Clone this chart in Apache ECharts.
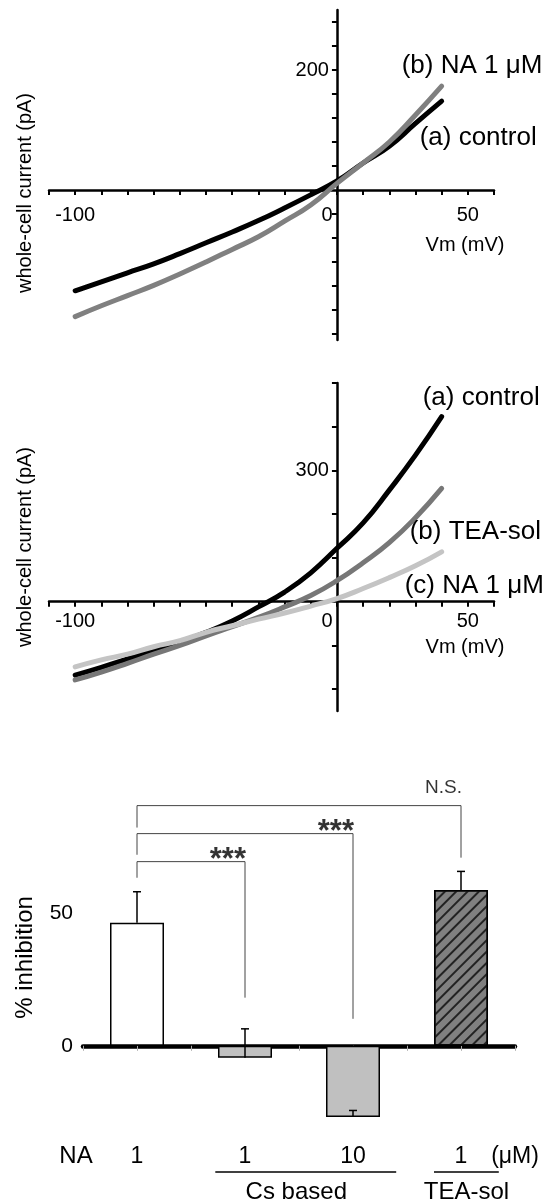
<!DOCTYPE html>
<html>
<head>
<meta charset="utf-8">
<script src="https://cdn.jsdelivr.net/npm/echarts@6.0.0/dist/echarts.min.js"></script>
<style>
html, body { margin: 0; padding: 0; background: #fff; }
#main { width: 548px; height: 1202px; }
</style>
</head>
<body>
<div id="main"></div>
<script>
// membrane potential steps (mV) shared by both I-V plots
var vm = [-100, -90, -80, -70, -60, -50, -40, -30, -20, -10, 0, 10, 20, 30, 40];

// top I-V: whole-cell current (pA)
var topControl = [-168, -153, -138, -123, -106, -88, -70, -51, -30, -8, 15, 45, 73, 111, 148];
var topNA = [-211, -193, -176, -159, -140, -120, -99, -78, -52, -25, 11, 45, 80, 125, 173];

// middle I-V
var midControl = [-168, -150, -131, -112, -92, -70, -44, -12, 22, 66, 122, 180, 255, 335, 423];
var midTEA = [-179, -161, -141, -120, -100, -78, -57, -36, -12, 14, 48, 89, 135, 192, 259];
var midNA = [-149, -133, -120, -103, -89, -70, -55, -40, -26, -10, 7, 30, 55, 82, 114];

// axis ticks / labels
var ivXTicks = [-110, -100, -90, -80, -70, -60, -50, -40, -30, -20, -10, 0, 10, 20, 30, 40, 50, 60];
var ivXLabels = [-100, 0, 50];
var topYTicks = [-240, -200, -160, -120, -80, -40, 40, 80, 120, 160, 200, 240, 280];
var topYLabels = [200];
var midYTicks = [-200, -100, 100, 200, 300, 400, 500];
var midYLabels = [300];

// bar chart: % inhibition
var barCats = ['NA', '1', '', '1', '', '10', '', '1', '(\u03bcM)'];
var barPos = [1, 3, 5, 7];
var barMean = [46.6, -4.5, -27, 59];
var barSem = [11.7, 10.9, 2.5, 7];
var barYLabels = [0, 50];

// significance brackets
var brFrom = [1, 1, 1];
var brTo = [3, 5, 7];
var brLevel = [69.7, 80.3, 90.9];
var brFromEnd = [63.6, 72.3, 82.6];
var brToEnd = [18.2, 10.2, 71.2];
var brText = ['***', '***', 'N.S.'];

// group underlines below the categories
var groupNames = ['Cs based', 'TEA-sol'];
var groupFrom = [2.45, 6.5];
var groupTo = [5.8, 7.7];
var groupMid = [3.95, 7.1];

var FONT = 'Liberation Sans';
var chart = echarts.init(document.getElementById('main'), null, { renderer: 'canvas' });

var grids = [
	{ left: 49, right: 54, top: 10, height: 330 },
	{ left: 49, right: 54, top: 383, height: 328 },
	{ left: 83, right: 33, top: 808, height: 317 }
];
var ivXMin = -110, ivXMax = 60;

// distance of the value 0 from the low end of an axis of given pixel length
function zeroDist(min, max, len) {
	return len * (0 - min) / (max - min);
}

function ivX(grid, yMin, yMax, margin, namePad) {
	return {
		gridIndex: grid, type: 'value', min: ivXMin, max: ivXMax,
		position: 'bottom', offset: -zeroDist(yMin, yMax, grids[grid].height),
		splitLine: { show: false },
		axisLine: { onZero: false, lineStyle: { color: '#000', width: 2.5 } },
		axisTick: { customValues: ivXTicks, length: 5, lineStyle: { color: '#000', width: 2 } },
		axisLabel: {
			customValues: ivXLabels, margin: margin, color: '#000', fontSize: 20, fontFamily: FONT,
			formatter: function (v) { return v === 0 ? '{z|0}' : String(v); },
			rich: { z: { padding: [0, 20, 0, 0], fontSize: 20, fontFamily: FONT, color: '#000' } }
		},
		name: 'Vm (mV)', nameLocation: 'end', nameGap: -29,
		nameTextStyle: { align: 'center', verticalAlign: 'top', padding: [namePad, 0, 0, 0], fontSize: 20, fontFamily: FONT, color: '#000' }
	};
}

function ivY(grid, min, max, ticks, labels, shift) {
	var off = zeroDist(ivXMin, ivXMax, 548 - grids[grid].left - grids[grid].right);
	return {
		gridIndex: grid, type: 'value', min: min, max: max,
		position: 'left', offset: -off,
		splitLine: { show: false },
		axisLine: { onZero: false, lineStyle: { color: '#000', width: 2.5 } },
		axisTick: { customValues: ticks, length: 5, lineStyle: { color: '#000', width: 2 } },
		axisLabel: { customValues: labels, color: '#000', fontSize: 20, fontFamily: FONT },
		name: 'whole-cell current (pA)', nameLocation: 'middle', nameGap: 301,
		nameTextStyle: { fontSize: 20, fontFamily: FONT, color: '#000', padding: [0, shift, 0, 0] }
	};
}

function trace(grid, values, color, label, off) {
	return {
		type: 'line', xAxisIndex: grid, yAxisIndex: grid,
		data: vm.map(function (v, i) { return [v, values[i]]; }),
		smooth: true, showSymbol: false, silent: true,
		lineStyle: { color: color, width: 5, cap: 'round' },
		endLabel: {
			show: true, formatter: function () { return label; }, distance: 0, offset: off,
			color: '#000', fontSize: 26, fontFamily: FONT
		}
	};
}

var barColors = ['#ffffff', '#c0c0c0', '#c0c0c0', '#808080'];
var barData = barPos.map(function (x, i) {
	var item = { value: [x, barMean[i]], itemStyle: { color: barColors[i] } };
	if (i === 3) {
		item.itemStyle.decal = { symbol: 'rect', symbolSize: 1, dashArrayX: [1, 0], dashArrayY: [1.2, 6], rotation: -Math.PI / 4, color: '#222' };
	}
	return item;
});

var series = [
	trace(0, topControl, '#000000', '(a) control', [-22, 37]),
	trace(0, topNA, '#808080', '(b) NA 1 \u03bcM', [-40, -20]),
	trace(1, midControl, '#000000', '(a) control', [-19, -19]),
	trace(1, midTEA, '#777777', '(b) TEA-sol', [-32, 43]),
	trace(1, midNA, '#c4c4c4', '(c) NA 1 \u03bcM', [-37, 34]),
	{
		type: 'bar', xAxisIndex: 2, yAxisIndex: 2, barWidth: '100%', silent: true,
		itemStyle: { borderColor: '#000', borderWidth: 1.5 },
		data: barData
	},
	{
		type: 'custom', xAxisIndex: 2, yAxisIndex: 2, silent: true, z: 5,
		data: barPos.map(function (x, i) { return [x, barMean[i], barMean[i] + barSem[i]]; }),
		renderItem: function (params, api) {
			var p0 = api.coord([api.value(0), api.value(1)]);
			var p1 = api.coord([api.value(0), api.value(2)]);
			var st = { stroke: '#000', lineWidth: 1.5 };
			return { type: 'group', children: [
				{ type: 'line', shape: { x1: p0[0], y1: p0[1], x2: p1[0], y2: p1[1] }, style: st },
				{ type: 'line', shape: { x1: p1[0] - 4, y1: p1[1], x2: p1[0] + 4, y2: p1[1] }, style: st }
			] };
		}
	}
];

brFrom.forEach(function (f, i) {
	series.push({
		type: 'line', xAxisIndex: 2, yAxisIndex: 2, silent: true, clip: false,
		showSymbol: false, symbol: 'none',
		lineStyle: { color: '#444', width: 1 },
		data: [[f, brFromEnd[i]], [f, brLevel[i]], [brTo[i], brLevel[i]], [brTo[i], brToEnd[i]]]
	});
});

series.push({
	type: 'scatter', xAxisIndex: 2, yAxisIndex: 2, silent: true, clip: false,
	symbolSize: 0,
	data: brTo.map(function (t, i) {
		var star = brText[i] === '***';
		return {
			value: [t, brLevel[i], brText[i]],
			label: {
				show: true, formatter: brText[i], position: 'inside', align: 'right', verticalAlign: 'middle',
				offset: star ? [1, -1] : [1, -18],
				fontSize: star ? 31 : 19, fontWeight: star ? 'bold' : 'normal',
				fontFamily: FONT, color: '#000'
			}
		};
	})
});

chart.setOption({
	animation: false,
	backgroundColor: '#fff',
	textStyle: { fontFamily: FONT },
	grid: grids.map(function (g) {
		return { left: g.left, right: g.right, top: g.top, height: g.height, containLabel: false, outerBoundsMode: 'none' };
	}),
	xAxis: [
		ivX(0, -250, 300, 15, 45),
		ivX(1, -250, 500, 10, 36),
		{
			gridIndex: 2, type: 'category', data: barCats, boundaryGap: false,
			position: 'bottom', offset: -zeroDist(-30, 90, grids[2].height),
			axisLine: { onZero: false, lineStyle: { color: '#000', width: 4.5, cap: 'round' } },
			axisTick: { show: true, interval: 0, length: 5, lineStyle: { color: '#aaa', width: 1 } },
			axisLabel: {
				interval: 0, margin: 99, color: '#000', fontSize: 23, fontFamily: FONT,
				formatter: function (v) { return v === 'NA' ? '{n|NA}' : v; },
				rich: { n: { padding: [0, 14, 0, 0], fontSize: 24, fontFamily: FONT, color: '#000' } }
			}
		}
	],
	yAxis: [
		ivY(0, -250, 300, topYTicks, topYLabels, 36),
		ivY(1, -250, 500, midYTicks, midYLabels, 0),
		{
			gridIndex: 2, type: 'value', min: -30, max: 90, interval: 10,
			splitLine: { show: false },
			axisLine: { onZero: false, lineStyle: { color: '#000', width: 4.5, cap: 'round' } },
			axisTick: { length: 2, lineStyle: { color: '#000', width: 5, cap: 'round' } },
			axisLabel: { customValues: barYLabels, margin: 10, color: '#000', fontSize: 21, fontFamily: FONT },
			name: '% inhibition', nameLocation: 'middle', nameGap: 46,
			nameTextStyle: { fontSize: 24, fontFamily: FONT, color: '#000', padding: [0, 0, 0, 18] }
		}
	],
	series: series
});

// group underlines and names below the bar chart categories
var p0 = chart.convertToPixel({ xAxisIndex: 2 }, 0);
var p8 = chart.convertToPixel({ xAxisIndex: 2 }, 8);
var unit = (p8 - p0) / 8;
var graphics = [];
groupNames.forEach(function (name, i) {
	graphics.push({
		type: 'line', silent: true,
		shape: { x1: p0 + groupFrom[i] * unit, y1: 1172, x2: p0 + groupTo[i] * unit, y2: 1172 },
		style: { stroke: '#000', lineWidth: 1.5 }
	});
	graphics.push({
		type: 'text', silent: true, x: p0 + groupMid[i] * unit, y: 1192,
		style: { text: name, align: 'center', verticalAlign: 'middle', fontSize: 24, fontFamily: FONT, fill: '#000' }
	});
});
chart.setOption({ graphic: graphics });
</script>
</body>
</html>
